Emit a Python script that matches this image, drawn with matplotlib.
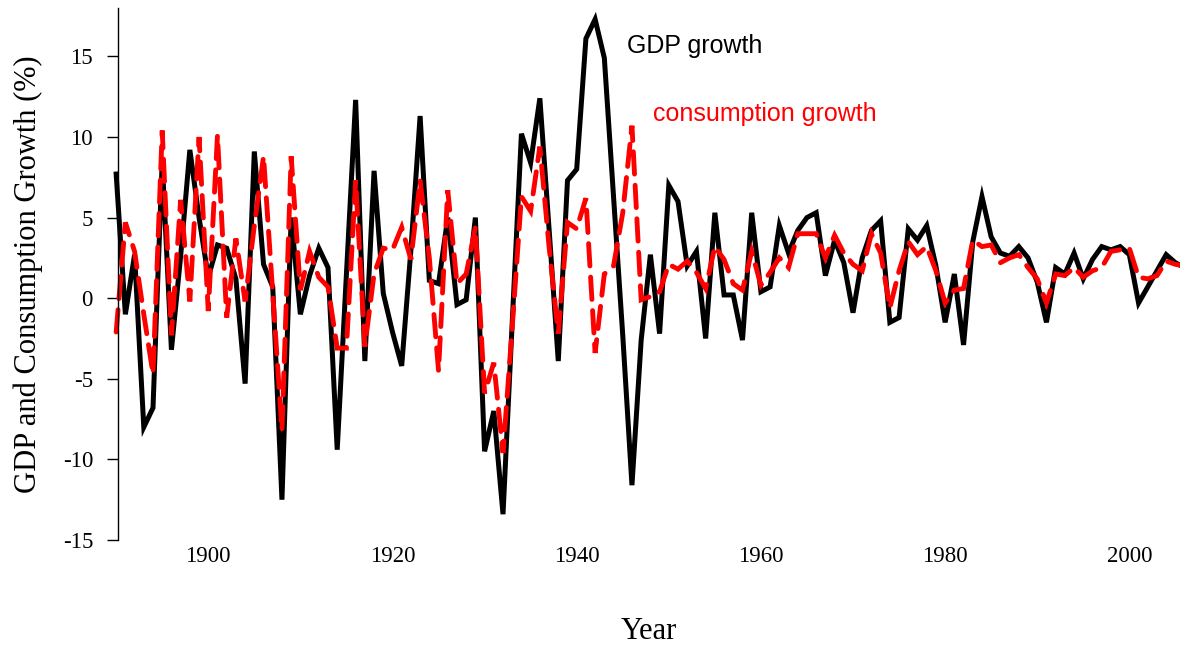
import matplotlib
matplotlib.use("Agg")
import matplotlib.pyplot as plt

years = list(range(1890, 2007))

gdp_growth = [
    7.7, -1.0, 2.7, -8.0, -6.8, 8.5, -3.2, 2.6, 9.2, 5.0,      # 1890-1899
    1.3, 3.3, 3.1, 1.2, -5.3, 9.1, 2.1, 0.7, -12.5, 5.0,       # 1900-1909
    -1.0, 1.4, 3.1, 1.9, -9.4, 1.5, 12.3, -3.9, 7.9, 0.3,      # 1910-1919
    -2.1, -4.2, 3.0, 11.3, 1.1, 0.9, 5.0, -0.4, -0.1, 5.0,     # 1920-1929
    -9.5, -7.0, -13.4, -1.5, 10.2, 8.4, 12.4, 4.3, -3.9, 7.3,  # 1930-1939
    8.0, 16.1, 17.3, 14.9, 6.3, -2.3, -11.6, -2.6, 2.7, -2.2,  # 1940-1949
    7.0, 6.0, 2.0, 2.9, -2.5, 5.3, 0.2, 0.2, -2.6, 5.3,        # 1950-1959
    0.4, 0.7, 4.5, 2.8, 4.2, 5.0, 5.3, 1.4, 3.6, 2.2,          # 1960-1969
    -0.9, 2.5, 4.2, 4.8, -1.5, -1.2, 4.3, 3.6, 4.5, 2.0,       # 1970-1979
    -1.5, 1.5, -2.9, 3.5, 6.3, 3.8, 2.8, 2.6, 3.2, 2.5,        # 1980-1989
    1.0, -1.5, 1.9, 1.5, 2.8, 1.2, 2.4, 3.2, 3.0, 3.2,         # 1990-1999
    2.7, -0.3, 0.7, 1.7, 2.7, 2.2, 1.9,                        # 2000-2006
]

consumption_growth = [
    -2.1, 4.7, 2.9, -1.0, -4.7, 10.4, -2.3, 6.1, -0.2, 10.0,   # 1890-1899
    -0.8, 10.1, -1.2, 3.7, -0.2, 4.5, 8.8, 0.3, -8.2, 8.8,     # 1900-1909
    0.5, 2.9, 1.3, 0.7, -3.1, -3.1, 7.3, -3.0, 1.5, 3.1,       # 1910-1919
    3.0, 4.4, 2.4, 7.3, 2.5, -4.5, 6.7, 0.9, 1.5, 4.4,         # 1920-1929
    -5.9, -4.0, -9.6, -1.8, 6.3, 5.4, 9.4, 3.2, -2.2, 4.7,     # 1930-1939
    4.3, 6.2, -3.4, 1.5, 2.0, 5.3, 10.7, -0.1, 0.1, 0.4,       # 1940-1949
    2.1, 1.8, 2.3, 1.6, 0.6, 3.2, 2.4, 0.9, 0.5, 2.9,          # 1950-1959
    0.8, 1.6, 2.5, 1.9, 4.0, 4.0, 4.0, 2.5, 3.9, 2.8,          # 1960-1969
    2.1, 1.7, 4.0, 2.8, -0.6, 1.7, 3.5, 2.7, 3.2, 1.7,         # 1970-1979
    -0.3, 0.5, 0.6, 3.6, 3.2, 3.3, 2.2, 2.5, 2.7, 1.9,         # 1980-1989
    1.2, -0.3, 1.5, 1.4, 1.9, 1.3, 1.7, 1.9, 2.9, 3.0,         # 1990-1999
    3.1, 1.3, 1.2, 1.4, 2.3, 2.1, 2.0,                         # 2000-2006
]

y_ticks = [-15, -10, -5, 0, 5, 10, 15]
x_ticks = [1900, 1920, 1940, 1960, 1980, 2000]

serif = ["Liberation Serif", "DejaVu Serif"]
sans = ["Liberation Sans", "DejaVu Sans"]

fig = plt.figure(figsize=(11.8, 6.49), dpi=100)
ax = fig.add_axes([118 / 1180, 109 / 649, 1 - 118 / 1180, 532 / 649])

ax.plot(years, gdp_growth, color="black", lw=3.6, solid_joinstyle="miter",
        clip_on=False)
ax.plot(years, consumption_growth, color="#ff0000", lw=3.5,
        linestyle=(0, (4.6, 2.3)), dash_capstyle="round",
        dash_joinstyle="miter", clip_on=False)

ax.set_xlim(1890.2, 2005.5)
ax.set_ylim(-15, 18)

for s in ["top", "right", "bottom"]:
    ax.spines[s].set_visible(False)
ax.spines["left"].set_bounds(-15, 18)
ax.spines["left"].set_linewidth(1.0)

ax.set_yticks(y_ticks)
ax.set_yticklabels([str(v) for v in y_ticks])
ax.set_xticks(x_ticks)
ax.set_xticklabels([str(v) for v in x_ticks])
ax.tick_params(axis="y", direction="out", length=8, width=1.0, pad=10,
               labelsize=16.5)
ax.tick_params(axis="x", length=0, pad=4, labelsize=16.5)
for lab in ax.get_xticklabels() + ax.get_yticklabels():
    lab.set_family(serif)

ax.set_xlabel("Year", family=serif, fontsize=22, labelpad=36)
ax.set_ylabel("GDP and Consumption Growth (%)", family=serif, fontsize=22,
              labelpad=14)

ax.text(1945.5, 15.65, "GDP growth", family=sans, fontsize=18,
        color="black", va="center", ha="left")
ax.text(1948.3, 11.4, "consumption growth", family=sans, fontsize=18,
        color="#ff0000", va="center", ha="left")

fig.savefig("out.png", dpi=100)
